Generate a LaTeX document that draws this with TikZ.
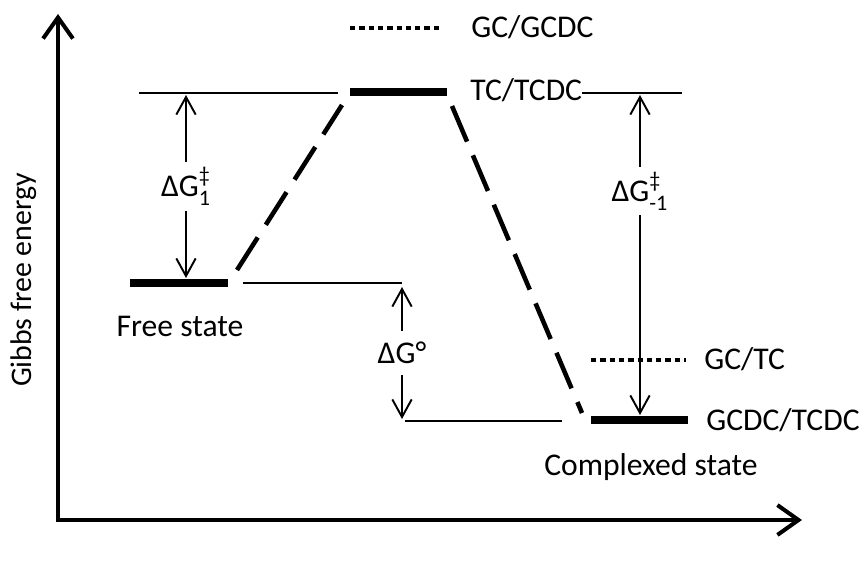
\documentclass[tikz,border=0pt]{standalone}
\usepackage{amsmath}
\usepackage{fontspec}
\setmainfont{Carlito}
\usetikzlibrary{arrows.meta}

\begin{document}
\begin{tikzpicture}[
  x=0.02cm, y=-0.02cm,
  font=\fontsize{18}{22}\selectfont,
  level/.style={line width=1.1pt},
  state/.style={line width=5pt},
  dotlevel/.style={line width=2.3pt,dash pattern=on 3pt off 2.3pt},
  route/.style={line width=2.6pt,dash pattern=on 22pt off 8.5pt},
  arr/.style={<->,>={Straight Barb[length=10pt,width=11pt]},line width=1.1pt},
  axis/.style={<->,>={Straight Barb[length=12pt,width=17pt]},line width=2.3pt},
  tag/.style={inner sep=0pt},
  gap/.style={fill=white,inner xsep=1pt,inner ysep=3pt}
]
\useasboundingbox (0,0) rectangle (867,562);

% ---- axes ----
\coordinate (ytop) at (58,14);
\coordinate (origin) at (58,520);
\coordinate (xend) at (802,520);
\draw[axis] (ytop) -- (origin) -- (xend);
\node[rotate=90,font=\fontsize{17}{20}\selectfont] (ylabel) at (24,280) {Gibbs free energy};

% ---- transition state ----
\coordinate (ts-l) at (350,92);
\coordinate (ts-r) at (447,92);
\draw[state] (ts-l) -- (ts-r);
\coordinate (top-l) at (139,93);
\coordinate (top-m) at (338,93);
\draw[level] (top-l) -- (top-m);
\node[tag,anchor=west] (tcl) at (470,90) {TC/TCDC};
\coordinate (top-r) at (682,93);
\draw[level] (tcl.east |- top-r) -- (top-r);
\coordinate (gg-l) at (350,28);
\coordinate (gg-r) at (443,28);
\draw[dotlevel] (gg-l) -- (gg-r);
\node[tag,anchor=west] (ggl) at (471,27) {GC/GCDC};

% ---- free state ----
\coordinate (fs-l) at (130,283);
\coordinate (fs-r) at (228,283);
\draw[state] (fs-l) -- (fs-r);
\node (fsl) at (180,326) {Free state};
\coordinate (mid-l) at (243,283);
\coordinate (mid-r) at (402,283);
\draw[level] (mid-l) -- (mid-r);

% ---- complexed state ----
\coordinate (cs-l) at (591,420);
\coordinate (cs-r) at (688,420);
\draw[state] (cs-l) -- (cs-r);
\node[tag,anchor=west] (csl) at (706,420) {GCDC/TCDC};
\node (cname) at (651,467) {Complexed state};
\coordinate (low-l) at (405,421);
\coordinate (low-r) at (562,421);
\draw[level] (low-l) -- (low-r);
\coordinate (gt-l) at (591,360);
\coordinate (gt-r) at (686,360);
\draw[dotlevel] (gt-l) -- (gt-r);
\node[tag,anchor=west] (gtl) at (704,359) {GC/TC};

% ---- reaction path ----
\coordinate (up-a) at (237,270);
\coordinate (up-b) at (342,105);
\draw[route] (up-a) -- (up-b);
\coordinate (down-a) at (452,106);
\coordinate (down-b) at (582,413);
\draw[route] (down-a) -- (down-b);

% ---- energy gaps ----
\coordinate (g1-t) at (186,95);
\coordinate (g1-b) at (186,278);
\draw[arr] (g1-t) -- node[gap] (g1) {ΔG$^{\text{‡}}_{\text{1}}$} (g1-b);
\coordinate (g0-t) at (402,287);
\coordinate (g0-b) at (402,419);
\draw[arr] (g0-t) -- node[gap,inner ysep=6.5pt] (g0) {ΔG°} (g0-b);
\coordinate (gm-t) at (640,95);
\coordinate (gm-b) at (640,415);
\draw[arr] (gm-t) -- node[gap,pos=0.3] (gm) {ΔG$^{\text{‡}}_{\text{-1}}$} (gm-b);

\end{tikzpicture}
\end{document}
